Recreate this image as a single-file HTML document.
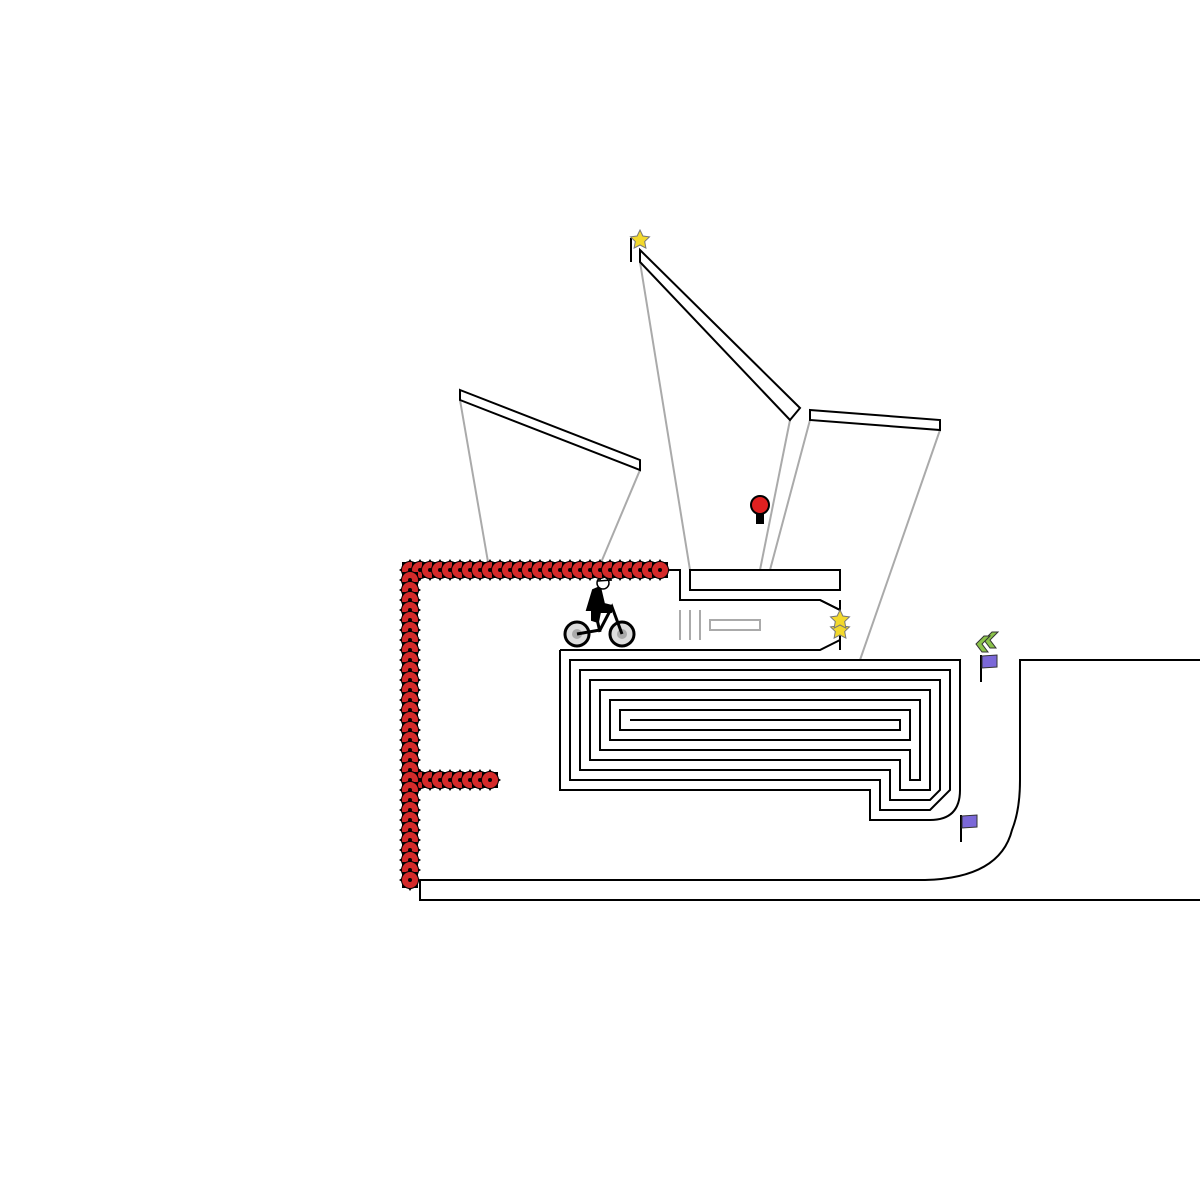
<!DOCTYPE html>
<html><head><style>html,body{margin:0;padding:0;background:#fff}svg{display:block}</style></head>
<body>
<svg width="1200" height="1200" viewBox="0 0 1200 1200" xmlns="http://www.w3.org/2000/svg">
<defs>
<g id="s">
<polygon points="0,-11 2,-8 8,-8 8,-2 11,0 8,2 8,8 2,8 0,11 -2,8 -8,8 -8,2 -11,0 -8,-2 -8,-8 -2,-8" fill="#000"/>
<circle r="8.5" fill="#d42a2a" stroke="#000" stroke-width="1"/>
<circle r="2" fill="#000"/>
</g>
<polygon id="star" points="0,-10 2.9,-4 9.5,-3.1 4.7,1.5 5.9,8.1 0,5 -5.9,8.1 -4.7,1.5 -9.5,-3.1 -2.9,-4" fill="#f3d92c" stroke="#777" stroke-width="1"/>
</defs>
<g stroke="#aaa" stroke-width="2" fill="none">
<line x1="460" y1="400" x2="488" y2="562"/>
<line x1="640" y1="470" x2="600" y2="565"/>
<line x1="640" y1="262" x2="690" y2="570"/>
<line x1="790" y1="420" x2="760" y2="570"/>
<line x1="810" y1="420" x2="770" y2="570"/>
<line x1="940" y1="430" x2="860" y2="660"/>
<line x1="680" y1="610" x2="680" y2="640"/>
<line x1="690" y1="610" x2="690" y2="640"/>
<line x1="700" y1="610" x2="700" y2="640"/>
<rect x="710" y="620" width="50" height="10"/>
</g>
<g stroke="#000" stroke-width="2" fill="none">
<polygon points="460,390 640,460 640,470 460,400" fill="#fff"/>
<polygon points="640,250 800,408 790,420 640,262" fill="#fff"/>
<polygon points="810,410 940,420 940,430 810,420" fill="#fff"/>
<rect x="690" y="570" width="150" height="20"/>
<polyline points="670,570 680,570 680,600 820,600 840,610"/>
<line x1="840" y1="600" x2="840" y2="650"/>
<polyline points="560,650 820,650 840,640"/>
<line x1="820" y1="600" x2="840" y2="610"/>
<path d="M560,650 L560,790 L870,790 L870,820 L930,820 Q960,820 960,790 L960,660 L570,660 L570,780 L880,780 L880,810 L930,810 L950,790 L950,670 L580,670 L580,770 L890,770 L890,800 L930,800 L940,790 L940,680 L590,680 L590,760 L900,760 L900,790 L930,790 L930,690 L600,690 L600,750 L910,750 L910,780 L920,780 L920,700 L610,700 L610,740 L910,740 L910,710 L620,710 L620,730 L900,730 L900,720 L630,720"/>
<path d="M420,880 L925,880 Q1000,878 1012,830 Q1020,810 1020,780 L1020,660 L1200,660"/>
<polyline points="420,880 420,900 1200,900"/>
<line x1="631" y1="238" x2="631" y2="262"/>
<line x1="981" y1="655" x2="981" y2="682"/>
<line x1="961" y1="815" x2="961" y2="842"/>
</g>
<use href="#star" x="640" y="240"/>
<use href="#star" x="840" y="630"/>
<use href="#star" x="840" y="620"/>
<polygon points="982,656 997,655 997,667 982,668" fill="#7b68d8" stroke="#333" stroke-width="1"/>
<polygon points="962,816 977,815 977,827 962,828" fill="#7b68d8" stroke="#333" stroke-width="1"/>
<g fill="#8bc34a" stroke="#333" stroke-width="1">
<polygon points="984,640 992,632 998,632 990,640 996,648 990,648"/>
<polygon points="978,640 986,632 992,632 984,640 990,648 984,648" transform="translate(-2,4)"/>
</g>
<circle cx="760" cy="505" r="9" fill="#e02020" stroke="#000" stroke-width="2"/>
<rect x="756" y="514" width="8" height="10" fill="#000"/>
<!-- rider -->
<g stroke="#000" fill="none">
<circle cx="577" cy="634" r="12" stroke-width="3" fill="#ddd"/>
<circle cx="577" cy="634" r="5" fill="#aaa" stroke="none"/>
<circle cx="622" cy="634" r="12" stroke-width="3" fill="#ddd"/>
<circle cx="622" cy="634" r="5" fill="#aaa" stroke="none"/>
<polyline points="577,634 600,630 612,607 622,634" stroke-width="3"/>
<line x1="596" y1="615" x2="600" y2="632" stroke-width="3"/>
<polygon points="593,590 600,587 604,604 612,606 611,612 600,612 598,622 592,620 592,610 587,610" fill="#000" stroke-width="2"/>
<circle cx="603" cy="583" r="6" fill="#fff" stroke-width="1.5"/>
<line x1="598" y1="581" x2="612" y2="580" stroke-width="1.5"/>
</g>
<g>
<use href="#s" x="410" y="570"/><use href="#s" x="420" y="570"/><use href="#s" x="430" y="570"/><use href="#s" x="440" y="570"/><use href="#s" x="450" y="570"/><use href="#s" x="460" y="570"/><use href="#s" x="470" y="570"/><use href="#s" x="480" y="570"/><use href="#s" x="490" y="570"/><use href="#s" x="500" y="570"/><use href="#s" x="510" y="570"/><use href="#s" x="520" y="570"/><use href="#s" x="530" y="570"/><use href="#s" x="540" y="570"/><use href="#s" x="550" y="570"/><use href="#s" x="560" y="570"/><use href="#s" x="570" y="570"/><use href="#s" x="580" y="570"/><use href="#s" x="590" y="570"/><use href="#s" x="600" y="570"/><use href="#s" x="610" y="570"/><use href="#s" x="620" y="570"/><use href="#s" x="630" y="570"/><use href="#s" x="640" y="570"/><use href="#s" x="650" y="570"/><use href="#s" x="660" y="570"/>
<use href="#s" x="420" y="780"/><use href="#s" x="430" y="780"/><use href="#s" x="440" y="780"/><use href="#s" x="450" y="780"/><use href="#s" x="460" y="780"/><use href="#s" x="470" y="780"/><use href="#s" x="480" y="780"/><use href="#s" x="490" y="780"/>
<use href="#s" x="410" y="580"/><use href="#s" x="410" y="590"/><use href="#s" x="410" y="600"/><use href="#s" x="410" y="610"/><use href="#s" x="410" y="620"/><use href="#s" x="410" y="630"/><use href="#s" x="410" y="640"/><use href="#s" x="410" y="650"/><use href="#s" x="410" y="660"/><use href="#s" x="410" y="670"/><use href="#s" x="410" y="680"/><use href="#s" x="410" y="690"/><use href="#s" x="410" y="700"/><use href="#s" x="410" y="710"/><use href="#s" x="410" y="720"/><use href="#s" x="410" y="730"/><use href="#s" x="410" y="740"/><use href="#s" x="410" y="750"/><use href="#s" x="410" y="760"/><use href="#s" x="410" y="770"/><use href="#s" x="410" y="780"/><use href="#s" x="410" y="790"/><use href="#s" x="410" y="800"/><use href="#s" x="410" y="810"/><use href="#s" x="410" y="820"/><use href="#s" x="410" y="830"/><use href="#s" x="410" y="840"/><use href="#s" x="410" y="850"/><use href="#s" x="410" y="860"/><use href="#s" x="410" y="870"/><use href="#s" x="410" y="880"/>
</g>
</svg>
</body></html>
